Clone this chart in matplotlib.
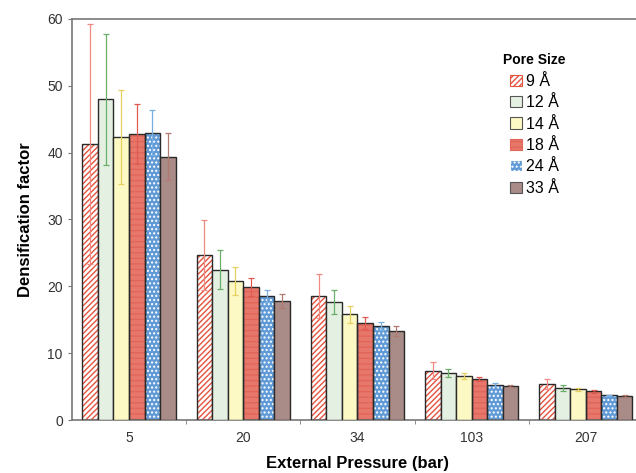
import numpy as np
import matplotlib.pyplot as plt
from matplotlib.patches import Patch

plt.rcParams['font.family'] = ['Liberation Sans', 'DejaVu Sans']

pressures = ['5', '20', '34', '103', '207']
pore_sizes = ['9 Å', '12 Å', '14 Å', '18 Å', '24 Å', '33 Å']

# densification factor per pore size (rows) at each pressure (columns)
values = [
    [41.3, 24.7, 18.6, 7.4, 5.4],
    [48.0, 22.5, 17.7, 7.1, 4.8],
    [42.3, 20.8, 15.8, 6.6, 4.6],
    [42.8, 19.9, 14.5, 6.1, 4.3],
    [43.0, 18.6, 14.1, 5.3, 3.7],
    [39.4, 17.8, 13.3, 5.1, 3.6],
]
errors = [
    [18.0, 5.2, 3.3, 1.3, 0.7],
    [9.8, 2.9, 1.8, 0.6, 0.5],
    [7.0, 2.1, 1.3, 0.4, 0.2],
    [4.5, 1.3, 0.9, 0.3, 0.2],
    [3.4, 0.9, 0.6, 0.2, 0.1],
    [3.5, 1.0, 0.7, 0.2, 0.1],
]

faces = ['white', '#e4f0e2', '#fdf9c4', '#e8776b', '#5f9ad6', '#a98b87']
hatches = ['//////', None, None, '---', '....', None]
hatch_cols = ['#e4543f', None, None, '#e0665a', 'white', None]
err_cols = ['#f08a80', '#6aae6a', '#e8d060', '#e05a50', '#7aaee0', '#b07a70']

fig = plt.figure(figsize=(6.36, 4.73), dpi=100)
ax = fig.add_axes([0.113, 0.112, 0.898, 0.848])

x = np.arange(len(pressures))
w = 0.136
handles = []
for i in range(len(pore_sizes)):
    pos = x + (i - 2.5) * w
    if hatches[i]:
        ax.bar(pos, values[i], w, color=faces[i], hatch=hatches[i],
               edgecolor=hatch_cols[i], linewidth=0, zorder=2)
    ax.bar(pos, values[i], w, color=faces[i] if not hatches[i] else 'none',
           edgecolor='#2a2a2a', linewidth=1.0, zorder=3)
    ax.errorbar(pos, values[i], yerr=errors[i], fmt='none', ecolor=err_cols[i],
                elinewidth=0.9, capsize=2, capthick=0.9, zorder=4)
    # legend proxy
    handles.append(Patch(facecolor=faces[i], hatch=hatches[i],
                         edgecolor=hatch_cols[i] if hatches[i] else '#555555',
                         linewidth=0.8))

ax.set_xlim(-0.5, 4.5)
ax.set_ylim(0, 60)
ax.set_yticks(range(0, 61, 10))
ax.set_xticks(x)
ax.set_xticklabels(pressures)
ax.set_xticks(np.arange(0.5, 4.5, 1), minor=True)
ax.tick_params(axis='x', which='major', length=0, pad=8, labelsize=10, colors='#333333')
ax.tick_params(axis='x', which='minor', length=3, color='#777777')
ax.tick_params(axis='y', length=3, color='#777777', labelsize=10, labelcolor='#333333')
for s in ax.spines.values():
    s.set_color('#777777')
    s.set_linewidth(1.2)

ax.set_xlabel('External Pressure (bar)', fontsize=12, fontweight='bold', labelpad=8)
ax.set_ylabel('Densification factor', fontsize=12, fontweight='bold', labelpad=10)

leg = ax.legend(handles, pore_sizes, title='Pore Size', loc='upper left',
                bbox_to_anchor=(0.73, 0.95), frameon=False, fontsize=11.5,
                handlelength=0.7, handleheight=0.7, handletextpad=0.25,
                labelspacing=0.4)
leg.get_title().set_fontweight('bold')
leg.get_title().set_fontsize(10)

fig.savefig('out.png', dpi=100)
